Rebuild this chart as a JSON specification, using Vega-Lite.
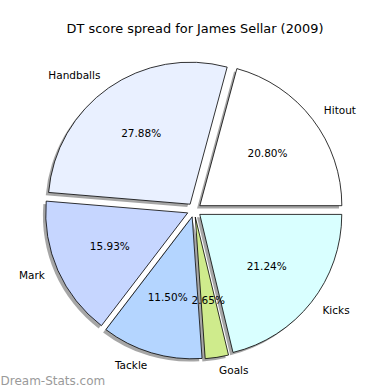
{
  "$schema": "https://vega.github.io/schema/vega-lite/v6.json",
  "width": 390,
  "height": 390,
  "autosize": {"type": "none"},
  "padding": 0,
  "background": "white",
  "title": {
    "text": "DT score spread for James Sellar (2009)",
    "font": "DejaVu Sans",
    "fontSize": 12.9,
    "fontWeight": "normal",
    "color": "#000000",
    "anchor": "middle",
    "frame": "group",
    "offset": -36
  },
  "config": {
    "view": {"stroke": null},
    "axisX": {
      "labels": false,
      "ticks": false,
      "domain": false,
      "grid": false,
      "titleColor": "#9a9a9a",
      "titleFont": "DejaVu Sans",
      "titleFontSize": 12,
      "titleFontWeight": "normal",
      "titleAnchor": "start",
      "titleAlign": "left",
      "titleBaseline": "alphabetic",
      "titleX": 0,
      "titleY": -6
    }
  },
  "data": {
    "values": [
      {"label": "Hitout", "value": 20.80, "order": 1},
      {"label": "Handballs", "value": 27.88, "order": 2},
      {"label": "Mark", "value": 15.93, "order": 3},
      {"label": "Tackle", "value": 11.50, "order": 4},
      {"label": "Goals", "value": 2.65, "order": 5},
      {"label": "Kicks", "value": 21.24, "order": 6}
    ]
  },
  "transform": [
    {"joinaggregate": [{"op": "sum", "field": "value", "as": "total"}]},
    {"window": [{"op": "sum", "field": "value", "as": "cum"}], "sort": [{"field": "order"}], "frame": [null, 0]},
    {"calculate": "2*PI*(datum.cum - datum.value)/datum.total", "as": "a1"},
    {"calculate": "2*PI*datum.cum/datum.total", "as": "a2"},
    {"calculate": "(datum.a1 + datum.a2)/2", "as": "mid"},
    {"calculate": "PI/2 - datum.a2", "as": "t1"},
    {"calculate": "PI/2 - datum.a1", "as": "t2"},
    {"calculate": "0.05*cos(datum.mid)", "as": "ex"},
    {"calculate": "0.05*sin(datum.mid)", "as": "ey"},
    {"calculate": "1.15*cos(datum.mid)", "as": "lx"},
    {"calculate": "1.15*sin(datum.mid)", "as": "ly"},
    {"calculate": "0.65*cos(datum.mid)", "as": "px"},
    {"calculate": "0.65*sin(datum.mid)", "as": "py"},
    {"calculate": "format(100*datum.value/datum.total, '.2f') + '%'", "as": "pct"}
  ],
  "layer": [
    {
      "mark": {"type": "arc", "radius": 142, "fill": "#4d4d4d", "opacity": 0.5, "xOffset": -2.8, "yOffset": 2.8},
      "encoding": {
        "x": {"field": "ex", "type": "quantitative", "title": "Dream-Stats.com", "scale": {"domain": [-1.3676, 1.3789], "nice": false, "zero": false}},
        "y": {"field": "ey", "type": "quantitative", "axis": null, "scale": {"domain": [-1.2676, 1.4789], "nice": false, "zero": false}},
        "theta": {"field": "t1", "type": "quantitative", "scale": null},
        "theta2": {"field": "t2"}
      }
    },
    {
      "mark": {"type": "arc", "radius": 142, "stroke": "#000000", "strokeWidth": 0.8},
      "encoding": {
        "x": {"field": "ex", "type": "quantitative", "title": "Dream-Stats.com", "scale": {"domain": [-1.3676, 1.3789], "nice": false, "zero": false}},
        "y": {"field": "ey", "type": "quantitative", "axis": null, "scale": {"domain": [-1.2676, 1.4789], "nice": false, "zero": false}},
        "theta": {"field": "t1", "type": "quantitative", "scale": null},
        "theta2": {"field": "t2"},
        "color": {
          "field": "label",
          "type": "nominal",
          "legend": null,
          "scale": {
            "domain": ["Hitout", "Handballs", "Mark", "Tackle", "Goals", "Kicks"],
            "range": ["#ffffff", "#e9f0ff", "#c6d6ff", "#b4d5ff", "#cfeb8c", "#d9ffff"]
          }
        }
      }
    },
    {
      "mark": {"type": "text", "font": "DejaVu Sans", "fontSize": 10.5, "color": "#000000", "baseline": "middle", "align": {"expr": "datum.ex > 0 ? 'left' : 'right'"}},
      "encoding": {
        "x": {"field": "lx", "type": "quantitative", "title": "Dream-Stats.com", "scale": {"domain": [-1.3676, 1.3789], "nice": false, "zero": false}},
        "y": {"field": "ly", "type": "quantitative", "axis": null, "scale": {"domain": [-1.2676, 1.4789], "nice": false, "zero": false}},
        "text": {"field": "label"}
      }
    },
    {
      "mark": {"type": "text", "font": "DejaVu Sans", "fontSize": 10.5, "color": "#000000", "baseline": "middle", "align": "center"},
      "encoding": {
        "x": {"field": "px", "type": "quantitative", "title": "Dream-Stats.com", "scale": {"domain": [-1.3676, 1.3789], "nice": false, "zero": false}},
        "y": {"field": "py", "type": "quantitative", "axis": null, "scale": {"domain": [-1.2676, 1.4789], "nice": false, "zero": false}},
        "text": {"field": "pct"}
      }
    }
  ]
}
